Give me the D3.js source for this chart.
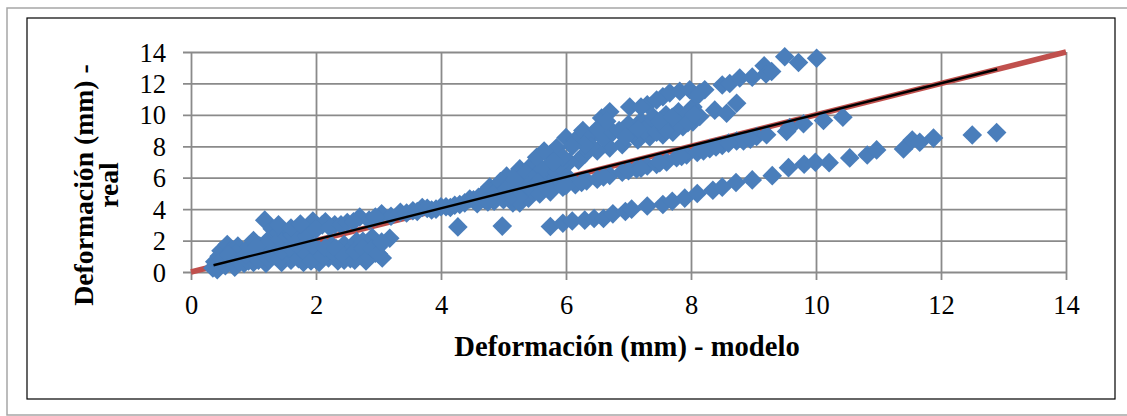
<!DOCTYPE html>
<html>
<head>
<meta charset="utf-8">
<script src="https://cdn.jsdelivr.net/npm/d3@7"></script>
<style>
  html, body { margin: 0; padding: 0; background: white; }
  svg { display: block; }
</style>
</head>
<body>
<svg></svg>
<script>
// Tick labels and axis titles
const tickValues = [0, 2, 4, 6, 8, 10, 12, 14];
const xTitle = 'Deformación (mm) - modelo';
const yTitleLines = ['Deformación (mm) -', 'real'];

// Reference line y = x and the fitted trend line
const referenceLine = [[0, 0], [14, 14]];
const trendLine = [[0.36, 0.43], [12.9, 12.9]];

// Points, one array per visible band: [modelo, real]
const lowerBand = [
  [5.75, 2.9], [5.95, 3.1], [6.1, 3.25], [6.3, 3.3], [6.45, 3.4], [6.6, 3.4], [6.75, 3.7], [6.95, 3.85],
  [7.05, 4.0], [7.3, 4.2], [7.55, 4.3], [7.7, 4.5], [7.9, 4.7], [8.1, 5.0], [8.35, 5.2], [8.5, 5.4],
  [8.72, 5.7], [8.98, 5.86], [9.3, 6.13], [9.56, 6.64], [9.81, 6.86], [9.99, 6.98], [10.21, 6.96],
  [10.54, 7.26], [10.82, 7.45], [10.97, 7.77], [11.4, 7.83], [11.54, 8.4], [11.66, 8.26], [11.88, 8.52],
  [12.5, 8.72], [12.89, 8.87]
];
const middleBand = [
  [5.58, 4.97], [5.75, 5.1], [5.95, 5.4], [6.15, 5.55], [6.33, 5.8], [6.5, 5.9], [6.7, 6.15], [6.9, 6.35],
  [7.13, 6.56], [7.3, 6.75], [7.45, 6.85], [7.61, 7.0], [7.77, 7.27], [7.93, 7.45], [8.1, 7.6], [8.3, 7.85],
  [8.5, 8.05], [8.73, 8.34], [8.84, 8.34], [9.05, 8.62], [9.21, 8.73], [9.53, 8.94], [9.58, 9.19],
  [9.8, 9.43], [10.12, 9.64], [10.43, 9.85], [6.0, 5.5], [6.25, 5.7], [6.6, 6.05], [7.0, 6.45], [7.2, 6.6],
  [7.5, 6.95], [7.85, 7.35], [8.2, 7.7], [8.4, 7.95], [8.6, 8.2], [8.95, 8.45]
];
const upperBand = [
  [5.53, 7.3], [5.75, 7.5], [6.0, 8.55], [6.15, 8.4], [6.27, 9.0], [6.4, 8.6], [6.57, 9.8], [6.7, 10.2],
  [7.02, 10.5], [7.3, 10.64], [7.45, 10.95], [7.55, 11.15], [7.66, 11.4], [7.82, 11.5], [7.98, 11.6],
  [8.14, 11.4], [8.22, 11.6], [8.5, 11.9], [8.62, 12.0], [8.78, 12.35], [8.98, 12.4], [9.17, 13.12],
  [9.2, 12.6], [9.29, 12.76], [9.5, 13.7], [9.72, 13.33], [10.01, 13.6],
  [7.0, 9.4], [7.2, 9.6], [7.4, 9.85], [7.6, 10.0], [7.8, 10.2], [8.03, 10.5], [8.14, 9.9], [8.38, 10.3],
  [8.57, 10.1], [8.73, 10.74], [8.03, 9.55], [7.87, 9.25], [7.71, 8.9], [7.55, 8.72], [7.34, 8.6],
  [7.15, 8.4], [6.9, 8.1], [6.7, 7.9], [6.5, 7.7], [6.3, 7.5], [6.6, 8.5], [6.75, 8.9], [6.4, 8.0],
  [7.1, 8.9], [7.3, 9.2], [7.5, 9.3], [7.7, 9.6], [7.9, 9.8], [7.95, 10.1], [6.3, 8.1], [6.2, 7.1],
  [6.05, 7.0], [5.9, 6.8], [6.1, 8.0], [6.5, 9.1], [6.65, 9.6], [6.85, 9.0], [6.95, 8.6], [7.25, 9.0],
  [7.45, 8.9], [7.6, 9.05], [7.8, 9.4], [7.95, 9.5], [7.5, 9.6], [7.7, 9.85], [7.2, 10.5], [7.15, 9.1],
  [8.05, 10.0], [8.1, 11.2], [5.85, 7.9], [5.65, 7.7], [5.95, 7.3], [5.8, 7.0]
];
const centreBand = [
  [2.5, 3.15], [2.7, 3.5], [2.85, 3.3], [3.05, 3.7], [3.2, 3.55], [3.35, 3.8], [3.55, 3.9], [3.7, 4.1],
  [3.85, 3.95], [4.0, 4.15], [4.15, 4.1], [4.3, 4.3], [4.46, 4.65], [4.58, 4.35], [4.7, 4.6], [4.78, 5.41],
  [4.85, 4.5], [5.05, 6.1], [5.0, 4.6], [5.15, 4.4], [5.26, 6.56], [5.26, 4.4], [5.4, 4.7], [5.45, 5.7],
  [5.55, 6.3], [5.6, 5.2], [5.75, 6.0], [5.8, 5.5], [4.9, 5.5], [5.0, 5.1], [5.2, 5.2], [5.3, 5.8],
  [5.45, 6.8], [5.7, 6.7], [4.27, 2.87], [4.98, 2.92], [2.6, 3.2], [2.95, 3.5], [3.45, 3.75], [3.62, 3.85],
  [3.78, 4.05], [3.92, 4.0], [4.08, 4.15], [4.22, 4.25], [4.38, 4.4], [4.52, 4.6], [4.65, 4.85], [4.72, 5.1],
  [4.85, 5.0], [4.95, 5.75], [5.1, 5.55], [5.12, 4.85], [5.2, 6.2], [5.3, 5.0], [5.35, 6.3], [5.45, 5.2],
  [5.5, 6.0], [5.65, 5.6], [5.62, 6.55], [5.9, 5.9], [5.85, 6.35], [6.0, 6.15], [5.05, 5.3], [5.18, 5.85],
  [5.4, 5.45], [5.55, 5.7], [4.6, 4.75], [4.75, 4.45]
];
const lowCluster = [
  [0.35, 0.25], [0.38, 0.65], [0.42, 0.15], [0.45, 1.0], [0.48, 1.35], [0.55, 0.4], [0.58, 1.75], [0.62, 0.75],
  [0.65, 1.4], [0.7, 0.3], [0.75, 1.65], [0.8, 0.95], [0.85, 0.55], [0.9, 1.5], [1.0, 0.6], [1.05, 1.2],
  [1.1, 1.65], [1.18, 3.3], [1.2, 0.55], [1.25, 2.1], [1.3, 2.75], [1.35, 1.0], [1.4, 2.5], [1.45, 0.6],
  [1.5, 1.6], [1.55, 2.2], [1.6, 0.75], [1.7, 1.2], [1.75, 2.6], [1.8, 0.6], [1.85, 1.8], [1.9, 3.0],
  [1.95, 3.25], [2.0, 0.8], [2.05, 1.4], [2.1, 3.0], [2.15, 3.2], [2.2, 0.9], [2.25, 1.7], [2.3, 3.0],
  [2.35, 0.7], [2.4, 1.3], [2.45, 1.75], [2.55, 0.85], [2.6, 1.6], [2.65, 1.95], [2.7, 1.1], [2.8, 0.7],
  [2.85, 1.7], [2.9, 2.2], [2.95, 1.2], [3.06, 0.89], [3.18, 2.15], [1.0, 2.0], [0.95, 0.95], [1.15, 0.95],
  [1.3, 1.5], [1.65, 1.9], [2.05, 0.6], [2.5, 1.2], [2.75, 1.95], [3.0, 1.6], [1.55, 1.1], [0.72, 1.2],
  [0.5, 0.8], [0.6, 1.1], [0.68, 0.55], [0.78, 0.6], [0.92, 0.7], [1.08, 0.75], [1.12, 1.4], [1.25, 0.8],
  [1.25, 1.25], [1.42, 0.85], [1.45, 1.35], [1.45, 1.9], [1.58, 1.55], [1.62, 2.35], [1.72, 0.85],
  [1.75, 1.5], [1.85, 1.15], [1.85, 2.3], [1.92, 0.7], [1.95, 1.65], [2.0, 2.7], [2.1, 1.0], [2.15, 1.55],
  [2.22, 2.85], [2.3, 1.1], [2.32, 1.5], [2.45, 0.75], [2.45, 1.0], [2.62, 0.75], [2.62, 1.3], [2.75, 1.5],
  [2.85, 0.95], [2.9, 1.45], [3.0, 1.15], [3.05, 1.9], [1.35, 1.8], [1.2, 1.7], [1.05, 1.6], [0.88, 1.1],
  [1.4, 3.0], [1.6, 2.8], [1.75, 3.05], [2.4, 3.0]
];

const width = 1127;
const height = 416;
const margin = { top: 52, right: 61, bottom: 144, left: 191 };
const plotWidth = width - margin.left - margin.right;
const plotHeight = height - margin.top - margin.bottom;
const fontFamily = '"Liberation Serif", serif';

const svg = d3.select('svg').attr('width', width).attr('height', height);

// Outer page frame, open on the right, and the black chart border
svg.append('path')
  .attr('d', `M${width},8H7V415H${width}`)
  .attr('fill', 'none')
  .attr('stroke', '#a6a6a6')
  .attr('stroke-width', 1.5);
svg.append('rect')
  .attr('x', 27).attr('y', 18).attr('width', 1088).attr('height', 381)
  .attr('fill', 'white')
  .attr('stroke', 'black')
  .attr('stroke-width', 1.2);

const g = svg.append('g').attr('transform', `translate(${margin.left},${margin.top})`);

const xScale = d3.scaleLinear().domain([0, 14]).range([0, plotWidth]);
const yScale = d3.scaleLinear().domain([0, 14]).range([plotHeight, 0]);

const xAxis = d3.axisBottom(xScale).tickValues(tickValues).tickSize(0).tickPadding(0);
const yAxis = d3.axisLeft(yScale).tickValues(tickValues).tickSize(0).tickPadding(0);

const xAxisGroup = g.append('g').attr('transform', `translate(0,${plotHeight})`).call(xAxis);
const yAxisGroup = g.append('g').call(yAxis);

// Grid lines stick out past the plot a little, like the tick marks in Excel
xAxisGroup.selectAll('.tick line').attr('y1', 8).attr('y2', -plotHeight);
yAxisGroup.selectAll('.tick line').attr('x1', -8).attr('x2', plotWidth);
g.selectAll('.domain').remove();
g.selectAll('.tick line').attr('stroke', '#8a8a8a').attr('stroke-width', 1.8);

xAxisGroup.selectAll('.tick text').attr('y', 42).attr('dy', 0);
yAxisGroup.selectAll('.tick text').attr('x', -25).attr('dy', 9);
g.selectAll('.tick text')
  .attr('fill', 'black')
  .attr('font-family', fontFamily)
  .attr('font-size', '26.5px');

const line = d3.line().x((d) => xScale(d[0])).y((d) => yScale(d[1]));

g.append('path')
  .datum(referenceLine)
  .attr('d', line)
  .attr('fill', 'none')
  .attr('stroke', '#c0504d')
  .attr('stroke-width', 5.5);

// All the blue diamonds
const diamond = d3.symbol().type(d3.symbolDiamond2).size(245);
const points = [...lowCluster, ...centreBand, ...lowerBand, ...middleBand, ...upperBand];

g.append('g')
  .selectAll('path')
  .data(points)
  .join('path')
  .attr('d', diamond)
  .attr('transform', (d) => `translate(${xScale(d[0])},${yScale(d[1])})`)
  .attr('fill', '#4a7ebb');

g.append('path')
  .datum(trendLine)
  .attr('d', line)
  .attr('fill', 'none')
  .attr('stroke', 'black')
  .attr('stroke-width', 2.4);

// Axis titles
svg.append('text')
  .text(xTitle)
  .attr('x', 627)
  .attr('y', 356)
  .attr('text-anchor', 'middle')
  .attr('font-family', fontFamily)
  .attr('font-weight', 'bold')
  .attr('font-size', '28.6px');

const yTitle = svg.append('text')
  .attr('transform', 'translate(93,185) rotate(-90)')
  .attr('text-anchor', 'middle')
  .attr('font-family', fontFamily)
  .attr('font-weight', 'bold')
  .attr('font-size', '27.7px');

yTitle.selectAll('tspan')
  .data(yTitleLines)
  .join('tspan')
  .attr('x', 0)
  .attr('y', (d, i) => i * 25)
  .text((d) => d);
</script>
</body>
</html>
